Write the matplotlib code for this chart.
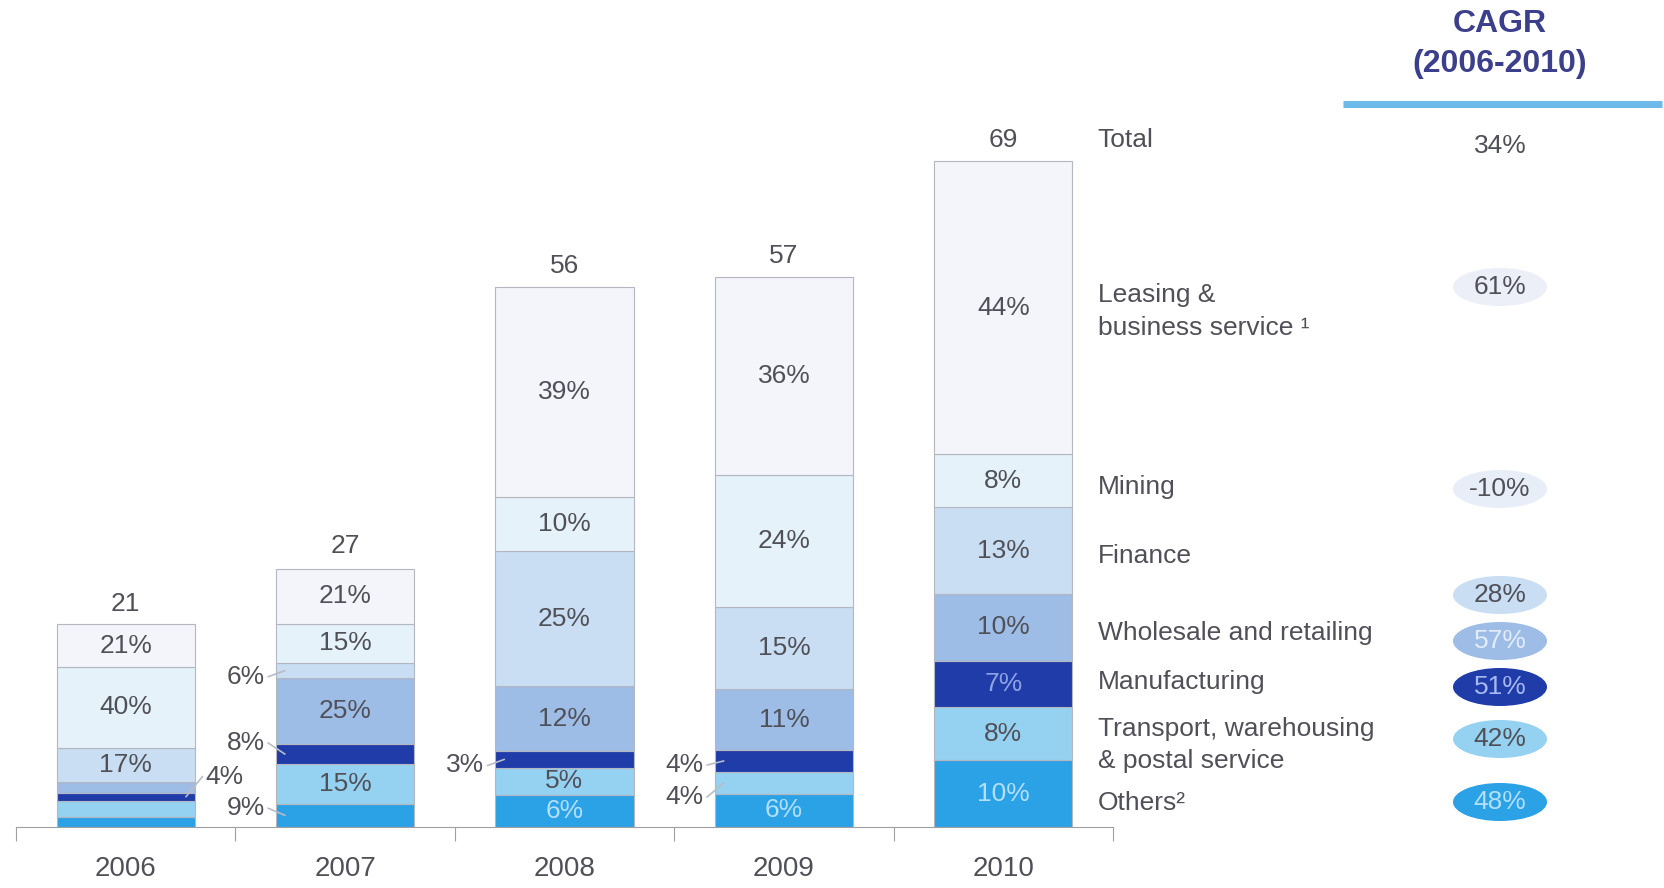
import matplotlib
matplotlib.use("Agg")
import matplotlib.pyplot as plt
from matplotlib.patches import Ellipse
import numpy as np

plt.rcParams['font.family'] = ['Liberation Sans', 'DejaVu Sans']

years = ['2006', '2007', '2008', '2009', '2010']
totals = [21, 27, 56, 57, 69]

# sectors from the bottom of each bar to the top
sectors = ['Others\u00b2', 'Transport, warehousing\n& postal service', 'Manufacturing',
           'Wholesale and retailing', 'Finance', 'Mining', 'Leasing &\nbusiness service \u00b9']
shares = {
    '2006': [5, 8, 4, 5, 17, 40, 21],
    '2007': [9, 15, 8, 25, 6, 15, 21],
    '2008': [6, 5, 3, 12, 25, 10, 39],
    '2009': [6, 4, 4, 11, 15, 24, 36],
    '2010': [10, 8, 7, 10, 13, 8, 44],
}
cagr_total = '34%'
cagr = ['48%', '42%', '51%', '57%', '28%', '-10%', '61%']

colors = ['#2ba1e6', '#95d1f1', '#1f3ca8', '#9dbde6', '#c9def3', '#e6f2fa', '#f4f5fb']
text_dark = '#505058'
text_light = ['#b2e0fa', None, '#8ea3e6', None, None, None, None]
FS = 19

# segments without a printed share, and shares printed beside the bar
unlabeled = {(0, 0), (0, 1), (0, 3)}
outside = {(0, 2): ('right', -20), (1, 4): ('left', 6), (1, 2): ('left', -11),
           (1, 0): ('left', -7), (2, 2): ('left', 6), (3, 2): ('left', 4),
           (3, 1): ('left', 14)}
# downward shift (px) of each sector name from its 2010 segment centre
name_shift = [9, 11, -2, 6, 5, 6, 4]

W, H = 1665, 888
PX = 9.65            # pixels per unit on the value axis
base_px = 61         # baseline height above the bottom edge
fig = plt.figure(figsize=(W / 100, H / 100), dpi=100)
ax = fig.add_axes([16 / W, base_px / H, 1097 / W, 797 / H])
ax.set_xlim(-0.5, 4.5)
ax.set_ylim(0, 797 / PX)

x = np.arange(len(years))
bw = 0.63
bottoms = np.zeros(len(years))
seg_mid = {}
for s in range(len(sectors)):
    vals = np.array([totals[i] * shares[y][s] / 100 for i, y in enumerate(years)])
    ax.bar(x, vals, bw, bottom=bottoms, color=colors[s], edgecolor='#b4b6c0',
           linewidth=0.8, zorder=2)
    for i, y in enumerate(years):
        mid = bottoms[i] + vals[i] / 2
        seg_mid[(i, s)] = mid
        if (i, s) in unlabeled:
            continue
        lab = f'{shares[y][s]}%'
        if (i, s) in outside:
            side, dy = outside[(i, s)]
            ty = mid - dy / PX
            if side == 'left':
                edge = x[i] - bw / 2
                ax.text(edge - 0.05, ty, lab, ha='right', va='center', fontsize=FS,
                        color=text_dark)
                ax.plot([edge - 0.035, edge + 0.04], [ty, mid], color='#b8bcc8', lw=1.2,
                        zorder=3, clip_on=False)
            else:
                edge = x[i] + bw / 2
                ax.text(edge + 0.05, ty, lab, ha='left', va='center', fontsize=FS,
                        color=text_dark)
                ax.plot([edge + 0.035, edge - 0.04], [ty, mid], color='#b8bcc8', lw=1.2,
                        zorder=3, clip_on=False)
        else:
            c = text_light[s] or text_dark
            ax.text(x[i], mid, lab, ha='center', va='center', fontsize=FS, color=c,
                    zorder=4)
    bottoms += vals

for i, t in enumerate(totals):
    ax.text(x[i], t + 0.9, str(t), ha='center', va='bottom', fontsize=FS, color=text_dark)

# sector names beside the last bar
lx = 4.43
ax.text(lx, totals[-1] + 0.9, 'Total', ha='left', va='bottom', fontsize=FS, color=text_dark)
for s, name in enumerate(sectors):
    ax.text(lx, seg_mid[(4, s)] - name_shift[s] / PX, name, ha='left', va='center',
            fontsize=FS, color=text_dark, linespacing=1.45)

for sp in ['top', 'right', 'left']:
    ax.spines[sp].set_visible(False)
ax.spines['bottom'].set_color('#a0a0a0')
ax.set_yticks([])
ax.set_xticks(np.arange(-0.5, 5, 1.0))
ax.set_xticklabels([])
ax.tick_params(axis='x', which='major', length=10, color='#a0a0a0', direction='out')
ax.set_xticks(x, minor=True)
ax.set_xticklabels(years, minor=True)
ax.tick_params(axis='x', which='minor', length=0, pad=21, labelsize=FS + 1,
               labelcolor=text_dark)

# CAGR column
ov = fig.add_axes([0, 0, 1, 1])
ov.set_xlim(0, W)
ov.set_ylim(H, 0)
ov.axis('off')
ov.patch.set_visible(False)
cx = 1500
ov.text(cx, 24, 'CAGR', ha='center', va='center', fontsize=23, fontweight='bold',
        color='#3b3f8c')
ov.text(cx, 64, '(2006-2010)', ha='center', va='center', fontsize=23, fontweight='bold',
        color='#3b3f8c')
ov.plot([1343, 1662], [104, 104], color='#6cb9ea', lw=5, solid_capstyle='butt')
ov.text(cx, 146, cagr_total, ha='center', va='center', fontsize=FS, color=text_dark)

cagr_y = [802, 739, 687, 641, 595, 489, 287]
ell_col = ['#2ba1e6', '#95d1f1', '#1f3ca8', '#9dbde6', '#c9def3', '#e8eef7', '#eceef8']
cagr_txt = ['#b2e0fa', text_dark, '#a8b8f0', '#e4ecfb', text_dark, text_dark, text_dark]
for s in range(len(sectors)):
    ov.add_patch(Ellipse((cx, cagr_y[s]), 94, 38, facecolor=ell_col[s], edgecolor='none'))
    ov.text(cx, cagr_y[s], cagr[s], ha='center', va='center', fontsize=FS,
            color=cagr_txt[s])

fig.savefig('out.png', dpi=100, facecolor='white')
